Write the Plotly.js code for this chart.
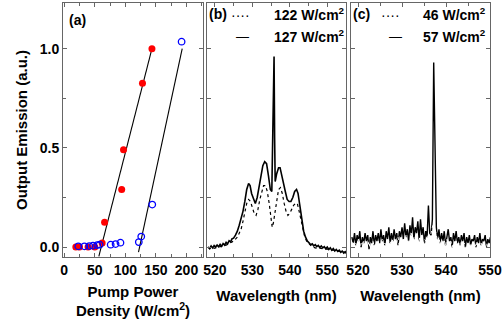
<!DOCTYPE html>
<html>
<head>
<meta charset="utf-8">
<script src="https://cdn.plot.ly/plotly-3.0.1.min.js"></script>
<style>html,body{margin:0;padding:0;background:#fff;}#chart{width:503px;height:326px;}</style>
</head>
<body>
<div id="chart"></div>
<script>
// ---- Panel (a): output emission vs pump power density ----
const redX = [19, 25, 39, 50, 62, 66, 94, 97, 128, 143.5];
const redY = [0, 0, 0, 0, 0.02, 0.125, 0.29, 0.49, 0.825, 1.0];
const blueX = [23, 33, 41, 47, 54, 58, 76, 84, 92, 122, 126, 144, 192];
const blueY = [0.004, 0.004, 0.005, 0.007, 0.01, 0.012, 0.012, 0.015, 0.022, 0.025, 0.053, 0.214, 1.035];
const redFitX = [56.6, 143.5];
const redFitY = [-0.047, 1.0];
const blueFitX = [121.5, 193];
const blueFitY = [-0.025, 1.0];

// ---- Panel (b): spectra at 122 and 127 W/cm2 ----
const b127X = [518.2,518.6,519.0,519.4,519.8,520.2,520.6,521.0,521.4,521.8,522.2,522.6,523.0,523.4,523.8,524.2,524.6,525.0,525.5,526.0,526.5,527.0,527.5,528.0,528.5,529.0,529.4,529.8,530.3,530.8,531.3,531.8,532.3,532.8,533.3,533.8,534.3,534.8,535.2,535.5,535.6,535.8,535.95,536.1,536.5,537.0,537.4,537.8,538.3,538.8,539.3,539.8,540.3,540.8,541.3,541.8,542.2,542.7,543.2,543.7,544.2,544.7,545.2,545.6,546.0,546.4,546.8,547.2,547.6,548.0,548.4,548.8,549.2,549.6,550.0,550.4,550.8,551.2,551.6,552.0,552.4,552.8,553.2,553.6,554.0,554.4,554.8,555.0];
const b127Y = [0.0,-0.008,0.006,-0.004,0.008,0.0,0.01,0.002,0.014,0.004,0.018,0.01,0.024,0.016,0.032,0.026,0.042,0.045,0.06,0.08,0.11,0.14,0.18,0.23,0.29,0.32,0.31,0.27,0.24,0.22,0.25,0.30,0.36,0.41,0.43,0.42,0.36,0.29,0.28,0.62,0.96,0.96,0.55,0.33,0.37,0.40,0.40,0.37,0.32,0.28,0.24,0.23,0.23,0.25,0.28,0.29,0.27,0.20,0.14,0.08,0.05,0.03,0.02,0.012,0.016,0.006,0.012,0.002,0.008,-0.002,0.006,-0.004,0.002,-0.008,0.0,-0.012,-0.004,-0.016,-0.008,-0.02,-0.012,-0.022,-0.016,-0.026,-0.02,-0.03,-0.024,-0.032];
const b122X = [518.2,519,520,521,522,523,524,525,526,526.5,527,527.5,528,528.5,529,529.5,530,530.5,531,531.5,532,532.5,533,533.5,534,534.5,535,535.3,535.6,536,536.5,537,537.5,538,538.5,539,539.5,540,540.5,541,541.5,542,542.5,543,543.5,544,544.5,545,546,547,548,549,550,551,552,553,554,555];
const b122Y = [0.0,-0.01,-0.005,0.0,0.005,0.01,0.02,0.03,0.05,0.07,0.09,0.13,0.18,0.22,0.24,0.23,0.20,0.17,0.16,0.19,0.24,0.28,0.31,0.31,0.28,0.22,0.14,0.10,0.12,0.17,0.25,0.29,0.30,0.27,0.22,0.18,0.16,0.17,0.19,0.21,0.22,0.22,0.18,0.13,0.08,0.05,0.03,0.02,0.0,-0.005,-0.005,-0.01,-0.01,-0.015,-0.015,-0.02,-0.025,-0.025];

// ---- Panel (c): spectra at 46 and 57 W/cm2 ----
const cX = [518.6,518.9,519.2,519.5,519.8,520.1,520.4,520.7,521.0,521.3,
  521.6,521.9,522.2,522.5,522.8,523.1,523.4,523.7,524.0,524.3,
  524.6,524.9,525.2,525.5,525.8,526.1,526.4,526.7,527.0,527.3,
  527.6,527.9,528.2,528.5,528.8,529.1,529.4,529.7,530.0,530.3,
  530.6,530.9,531.2,531.5,531.8,532.1,532.4,532.7,533.0,533.3,
  533.6,533.9,534.2,534.5,534.8,535.1,535.4,535.7,536.0,536.3,
  536.6,536.9,537.2,537.5,537.8,538.1,538.4,538.7,539.0,539.3,
  539.6,539.9,540.2,540.5,540.8,541.1,541.4,541.7,542.0,542.3,
  542.6,542.9,543.2,543.5,543.8,544.1,544.4,544.7,545.0,545.3,
  545.6,545.9,546.2,546.5,546.8,547.1,547.4,547.7,548.0,548.3,
  548.6,548.9,549.2,549.5,549.8,550.1];
const c57Y = [0.05,0.02,0.07,0.01,0.06,0.03,0.08,0.00,0.05,0.02,
  0.07,0.03,0.06,-0.01,0.05,0.02,0.08,0.01,0.06,0.03,
  0.07,0.02,0.09,0.03,0.06,0.01,0.08,0.04,0.10,0.02,
  0.07,0.03,0.09,0.04,0.07,0.01,0.08,0.05,0.10,0.04,
  0.12,0.05,0.09,0.03,0.11,0.06,0.15,0.04,0.10,0.07,
  0.13,0.03,0.14,0.06,0.10,0.02,0.08,0.05,0.21,0.07,
  0.06,0.14,0.93,0.42,0.10,0.04,0.09,0.02,0.07,0.03,
  0.08,0.01,0.06,0.09,0.03,0.05,0.00,0.07,0.03,0.08,
  0.02,0.05,0.01,0.06,0.03,0.07,0.00,0.05,0.02,0.06,
  0.01,0.04,0.03,0.06,0.00,0.05,0.02,0.07,0.01,0.04,
  0.03,0.06,0.00,0.04,0.02,0.05];
const c46Y = [0.01,0.03,-0.01,0.02,0.00,0.04,-0.02,0.02,0.01,0.03,
  -0.01,0.02,0.00,0.03,-0.02,0.01,0.03,0.00,0.02,-0.01,
  0.03,0.00,0.02,0.04,-0.01,0.02,0.01,0.04,0.00,0.03,
  0.01,0.04,-0.01,0.03,0.02,0.05,0.00,0.03,0.01,0.04,
  0.02,0.06,0.00,0.04,0.02,0.07,0.01,0.05,0.03,0.06,
  0.00,0.05,0.02,0.06,0.01,0.04,0.03,0.05,0.06,0.04,
  0.08,0.10,0.12,0.09,0.06,0.03,0.05,0.01,0.04,0.00,
  0.03,0.01,0.04,-0.01,0.02,0.03,0.00,0.02,-0.01,0.03,
  0.01,0.02,-0.01,0.03,0.00,0.02,0.01,-0.01,0.02,0.00,
  0.02,-0.01,0.01,0.02,0.00,0.03,-0.01,0.01,0.02,0.00,
  0.01,-0.01,0.02,0.00,0.01,-0.01];

const legendB = ['122 W/cm<sup>2</sup>', '127 W/cm<sup>2</sup>'];
const legendC = ['46 W/cm<sup>2</sup>', '57 W/cm<sup>2</sup>'];

const FONT = 'Liberation Sans, Arial, Helvetica, sans-serif';
const W = 503, H = 326;
const px = v => v / W;
const py = v => 1 - v / H;

const traces = [
  {x: redFitX, y: redFitY, mode: 'lines', line: {color: '#000', width: 1.1}, xaxis: 'x', yaxis: 'y', hoverinfo: 'skip'},
  {x: blueFitX, y: blueFitY, mode: 'lines', line: {color: '#000', width: 1.1}, xaxis: 'x', yaxis: 'y', hoverinfo: 'skip'},
  {x: redX, y: redY, mode: 'markers', marker: {color: '#ff0000', size: 7, symbol: 'circle'}, xaxis: 'x', yaxis: 'y'},
  {x: blueX, y: blueY, mode: 'markers', marker: {color: '#0000ff', size: 6.5, symbol: 'circle-open', line: {width: 1.3, color: '#0000ff'}}, xaxis: 'x', yaxis: 'y'},
  {x: b127X, y: b127Y, mode: 'lines', line: {color: '#000', width: 1.6}, xaxis: 'x2', yaxis: 'y2'},
  {x: b122X, y: b122Y, mode: 'lines', line: {color: '#000', width: 1.2, dash: 'dot'}, xaxis: 'x2', yaxis: 'y2'},
  {x: cX, y: c57Y, mode: 'lines', line: {color: '#000', width: 1.4}, xaxis: 'x3', yaxis: 'y3'},
  {x: cX, y: c46Y, mode: 'lines', line: {color: '#fff', width: 1.0, dash: 'dot'}, xaxis: 'x3', yaxis: 'y3'}
];

const tickFont = {family: FONT, size: 14, color: '#000', weight: 'bold'};
const axBase = {
  showline: true, linecolor: '#666', linewidth: 1, mirror: 'ticks',
  ticks: 'inside', ticklen: 4, tickcolor: '#666', tickwidth: 1,
  showgrid: false, zeroline: false, tickfont: tickFont
};
const yDomain = [69 / H, 323 / H];
const yRange = [-0.05, 1.23];

const layout = {
  width: W, height: H,
  margin: {l: 0, r: 0, t: 0, b: 0},
  paper_bgcolor: '#fff', plot_bgcolor: '#fff',
  showlegend: false,
  font: {family: FONT, color: '#000'},
  xaxis: Object.assign({}, axBase, {
    domain: [px(63), px(203)], range: [-2, 227], anchor: 'y',
    tick0: 0, dtick: 50,
    minor: {dtick: 25, ticks: 'inside', ticklen: 3, tickcolor: '#666'},
    title: {text: 'Pump Power<br>Density (W/cm<sup>2</sup>)', font: {family: FONT, size: 15, weight: 'bold', color: '#000'}, standoff: 9}
  }),
  yaxis: Object.assign({}, axBase, {
    domain: yDomain, range: yRange, anchor: 'x',
    tick0: 0, dtick: 0.5, tickformat: '.1f',
    minor: {dtick: 0.25, ticks: 'inside', ticklen: 3, tickcolor: '#666'},
    title: {text: 'Output Emission (a.u.)', font: {family: FONT, size: 15, weight: 'bold', color: '#000'}, standoff: 8}
  }),
  xaxis2: Object.assign({}, axBase, {
    domain: [px(207), px(346)], range: [517.9, 555], anchor: 'y2',
    tick0: 520, dtick: 10,
    minor: {dtick: 5, ticks: 'inside', ticklen: 3, tickcolor: '#666'},
    title: {text: 'Wavelength (nm)', font: {family: FONT, size: 15, weight: 'bold', color: '#000'}, standoff: 13}
  }),
  yaxis2: Object.assign({}, axBase, {
    domain: yDomain, range: yRange, anchor: 'x2',
    tick0: 0, dtick: 0.25, showticklabels: false
  }),
  xaxis3: Object.assign({}, axBase, {
    domain: [px(351), px(490)], range: [518.4, 550], anchor: 'y3',
    tick0: 520, dtick: 10,
    minor: {dtick: 5, ticks: 'inside', ticklen: 3, tickcolor: '#666'},
    title: {text: 'Wavelength (nm)', font: {family: FONT, size: 15, weight: 'bold', color: '#000'}, standoff: 13}
  }),
  yaxis3: Object.assign({}, axBase, {
    domain: yDomain, range: yRange, anchor: 'x3',
    tick0: 0, dtick: 0.25, showticklabels: false
  }),
  annotations: [
    {text: '(a)', xref: 'paper', yref: 'paper', x: px(67), y: py(20), xanchor: 'left', yanchor: 'middle', showarrow: false, font: {family: FONT, size: 14, weight: 'bold', color: '#000'}},
    {text: '(b)', xref: 'paper', yref: 'paper', x: px(207), y: py(14), xanchor: 'left', yanchor: 'middle', showarrow: false, font: {family: FONT, size: 14, weight: 'bold', color: '#000'}},
    {text: '····', xref: 'paper', yref: 'paper', x: px(229), y: py(15), xanchor: 'left', yanchor: 'middle', showarrow: false, font: {family: FONT, size: 14, color: '#000'}},
    {text: legendB[0], xref: 'paper', yref: 'paper', x: px(347), y: py(14), xanchor: 'right', yanchor: 'middle', showarrow: false, font: {family: FONT, size: 14, weight: 'bold', color: '#000'}},
    {text: '—', xref: 'paper', yref: 'paper', x: px(242), y: py(36), xanchor: 'center', yanchor: 'middle', showarrow: false, font: {family: FONT, size: 13, color: '#000'}},
    {text: legendB[1], xref: 'paper', yref: 'paper', x: px(347), y: py(36), xanchor: 'right', yanchor: 'middle', showarrow: false, font: {family: FONT, size: 14, weight: 'bold', color: '#000'}},
    {text: '(c)', xref: 'paper', yref: 'paper', x: px(351), y: py(14), xanchor: 'left', yanchor: 'middle', showarrow: false, font: {family: FONT, size: 14, weight: 'bold', color: '#000'}},
    {text: '····', xref: 'paper', yref: 'paper', x: px(379), y: py(15), xanchor: 'left', yanchor: 'middle', showarrow: false, font: {family: FONT, size: 14, color: '#000'}},
    {text: legendC[0], xref: 'paper', yref: 'paper', x: px(488), y: py(14), xanchor: 'right', yanchor: 'middle', showarrow: false, font: {family: FONT, size: 14, weight: 'bold', color: '#000'}},
    {text: '—', xref: 'paper', yref: 'paper', x: px(395), y: py(36), xanchor: 'center', yanchor: 'middle', showarrow: false, font: {family: FONT, size: 13, color: '#000'}},
    {text: legendC[1], xref: 'paper', yref: 'paper', x: px(488), y: py(36), xanchor: 'right', yanchor: 'middle', showarrow: false, font: {family: FONT, size: 14, weight: 'bold', color: '#000'}}
  ]
};

Plotly.newPlot('chart', traces, layout, {staticPlot: true, displayModeBar: false});
</script>
</body>
</html>
